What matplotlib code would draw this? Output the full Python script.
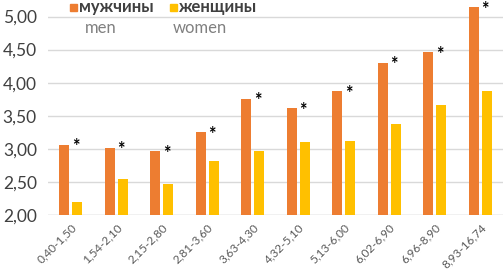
import matplotlib.pyplot as plt
import numpy as np

# Data
categories = ['0,40-1,50', '1,54-2,10', '2,15-2,80', '2,81-3,60', '3,63-4,30',
              '4,32-5,10', '5,13-6,00', '6,02-6,90', '6,96-8,90', '8,93-16,74']
men = [3.06, 3.02, 2.96, 3.25, 3.76, 3.61, 3.87, 4.30, 4.46, 5.14]
women = [2.20, 2.55, 2.47, 2.82, 2.97, 3.10, 3.12, 3.37, 3.67, 3.88]
yticks = [2.0, 2.5, 3.0, 3.5, 4.0, 4.5, 5.0]

c_men = '#ED7D31'
c_women = '#FFC000'

plt.rcParams['font.family'] = ['Lato', 'DejaVu Sans']

fig = plt.figure(figsize=(5.04, 2.70), dpi=100)
ax = fig.add_axes([48 / 504, 55 / 270, 455 / 504, 215 / 270])

x = np.arange(len(categories))
w = 0.22
off = 0.14
ax.bar(x - off, men, width=w, color=c_men, zorder=3)
ax.bar(x + off, women, width=w, color=c_women, zorder=3)

# significance markers
for xi, v in zip(x, men):
    ax.text(xi - off + w / 2 + 0.05, v - 0.03, '*', fontsize=13, fontweight='bold',
            color='black', ha='left', va='center', zorder=4)

ax.set_xlim(-0.5, len(categories) - 0.5)
ax.set_ylim(2.0, 5.25)
ax.set_yticks(yticks)
ax.set_yticklabels([f'{t:.2f}'.replace('.', ',') for t in yticks], fontsize=12.5, color='#404040')
ax.set_xticks(x)
ax.set_xticklabels(categories, rotation=45, ha='right', rotation_mode='anchor',
                   fontsize=8.5, color='#595959')
ax.tick_params(axis='both', length=0)
ax.tick_params(axis='y', pad=8)
ax.tick_params(axis='x', pad=5)

ax.grid(axis='y', color='#D9D9D9', linewidth=1, zorder=0)
for s in ax.spines.values():
    s.set_visible(False)
ax.axhline(2.0, color='#D9D9D9', linewidth=1, zorder=2)

# legend drawn as figure text
fig.patches.append(plt.Rectangle((70 / 504, 1 - 11 / 270), 7 / 504, 7 / 270,
                                 transform=fig.transFigure, color=c_men))
fig.patches.append(plt.Rectangle((170 / 504, 1 - 11 / 270), 7 / 504, 7 / 270,
                                 transform=fig.transFigure, color=c_women))
fig.text(79 / 504, 1 - 7 / 270, 'мужчины', fontsize=12, fontweight='bold',
         color='#404040', va='center')
fig.text(179 / 504, 1 - 7 / 270, 'женщины', fontsize=12, fontweight='bold',
         color='#404040', va='center')
fig.text(85 / 504, 1 - 28 / 270, 'men', fontsize=12, color='#808080', va='center')
fig.text(173 / 504, 1 - 28 / 270, 'women', fontsize=12, color='#808080', va='center')

fig.savefig('out.png', dpi=100)
